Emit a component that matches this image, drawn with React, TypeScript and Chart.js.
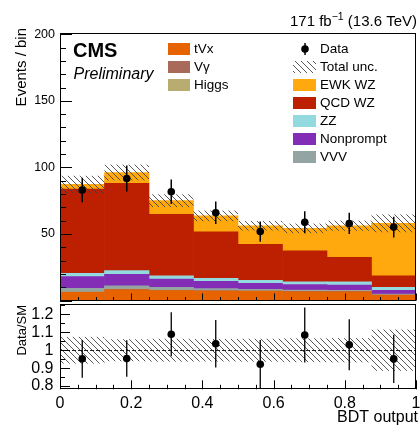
import React, { useEffect, useRef } from "react";
import { Chart, registerables } from "chart.js";

Chart.register(...registerables);

// BDT output binning
const binEdges = [0, 0.125, 0.25, 0.375, 0.5, 0.625, 0.75, 0.875, 1.0];
const binCenters = [0.0625, 0.1875, 0.3125, 0.4375, 0.5625, 0.6875, 0.8125, 0.9375];

// Expected yields per bin (events / bin)
const tVx = [6.1, 8.1, 7.4, 7.1, 6.9, 6.6, 6.6, 3.9];
const vGamma = [0.3, 0.3, 0.3, 0.3, 0.3, 0.3, 0.3, 0.3];
const higgs = [0.2, 0.2, 0.2, 0.2, 0.2, 0.2, 0.2, 0.2];
const vvv = [2.6, 2.5, 2.0, 1.3, 1.0, 0.8, 0.5, 0.5];
const nonprompt = [8.7, 8.6, 6.2, 5.5, 4.5, 4.1, 4.0, 2.7];
const zz = [2.5, 2.7, 2.4, 2.3, 2.3, 2.1, 2.5, 2.3];
const qcdWZ = [63.3, 65.6, 46.2, 34.9, 27.0, 23.3, 18.3, 8.6];
const ewkWZ = [3.5, 8.2, 10.3, 12.0, 14.0, 16.8, 23.8, 39.5];

// Total (stat + syst) uncertainty on the expectation, absolute
const totalUnc = [6.5, 5.9, 4.8, 4.0, 3.6, 3.6, 3.8, 6.7];

// Observed data and its uncertainty
const dataYield = [83.0, 91.7, 81.7, 65.9, 51.8, 58.8, 57.9, 55.2];
const dataErr = [9.2, 9.8, 9.2, 8.4, 7.6, 8.3, 8.0, 7.8];

// Labelled tick positions
const xTicks = [0, 0.2, 0.4, 0.6, 0.8, 1.0];
const mainYTicks = [0, 50, 100, 150, 200];
const ratioYTicks = [0.8, 0.9, 1.0, 1.1, 1.2];

const FONT = '"Liberation Sans", Arial, Helvetica, sans-serif';

// Stack order, bottom to top
const stackSeries = [
  { label: "tVx", values: tVx, color: "#e76300" },
  { label: "Vγ", values: vGamma, color: "#a96b59" },
  { label: "Higgs", values: higgs, color: "#b9ac70" },
  { label: "VVV", values: vvv, color: "#94a4a2" },
  { label: "Nonprompt", values: nonprompt, color: "#832db6" },
  { label: "ZZ", values: zz, color: "#92dadd" },
  { label: "QCD WZ", values: qcdWZ, color: "#bd1f01" },
  { label: "EWK WZ", values: ewkWZ, color: "#ffa90e" },
];

const colorOf = (label: string) => stackSeries.find((s) => s.label === label)!.color;

const totals = binCenters.map((_, i) => stackSeries.reduce((s, d) => s + d.values[i], 0));
const ratio = dataYield.map((v, i) => v / totals[i]);
const ratioErr = dataErr.map((e, i) => e / totals[i]);
const ratioUnc = totalUnc.map((u, i) => u / totals[i]);

function hatchPattern(ctx: CanvasRenderingContext2D) {
  const s = 6;
  const c = document.createElement("canvas");
  c.width = s;
  c.height = s;
  const g = c.getContext("2d")!;
  g.strokeStyle = "rgba(60,60,60,0.85)";
  g.lineWidth = 1;
  g.beginPath();
  g.moveTo(-1, -1);
  g.lineTo(s + 1, s + 1);
  g.moveTo(s - 1, -1);
  g.lineTo(s + 1, 1);
  g.moveTo(-1, s - 1);
  g.lineTo(1, s + 1);
  g.stroke();
  return ctx.createPattern(c, "repeat")!;
}

type TickSpec = {
  xMajor: number;
  xMinor: number;
  xMajorLen: number;
  xMinorLen: number;
  yMajor: number;
  yMinor: number;
  yMajorLen: number;
  yMinorLen: number;
};

const isMultiple = (v: number, step: number) => Math.abs(v / step - Math.round(v / step)) < 1e-6;

// ROOT-style frame with ticks pointing into the pad
function drawFrameAndTicks(chart: any, spec: TickSpec) {
  const ctx: CanvasRenderingContext2D = chart.ctx;
  const { left, right, top, bottom } = chart.chartArea;
  const xs = chart.scales.x;
  const ys = chart.scales.y;
  ctx.save();
  ctx.strokeStyle = "#000";
  ctx.lineWidth = 1;
  ctx.beginPath();
  const nx = Math.round((xs.max - xs.min) / spec.xMinor);
  for (let i = 0; i <= nx; i++) {
    const v = xs.min + i * spec.xMinor;
    const len = isMultiple(v, spec.xMajor) ? spec.xMajorLen : spec.xMinorLen;
    const px = Math.round(xs.getPixelForValue(v)) + 0.5;
    ctx.moveTo(px, bottom);
    ctx.lineTo(px, bottom - len);
  }
  const k0 = Math.ceil(ys.min / spec.yMinor - 1e-6);
  const k1 = Math.floor(ys.max / spec.yMinor + 1e-6);
  for (let k = k0; k <= k1; k++) {
    const v = k * spec.yMinor;
    const len = isMultiple(v, spec.yMajor) ? spec.yMajorLen : spec.yMinorLen;
    const py = Math.round(ys.getPixelForValue(v)) + 0.5;
    ctx.moveTo(left, py);
    ctx.lineTo(left + len, py);
  }
  ctx.stroke();
  ctx.strokeRect(
    Math.round(left) + 0.5,
    Math.round(top) + 0.5,
    Math.round(right - left) - 1,
    Math.round(bottom - top) - 1
  );
  ctx.restore();
}

function rotatedTitle(ctx: CanvasRenderingContext2D, text: string, x: number, yTop: number, size: number) {
  ctx.save();
  ctx.translate(x, yTop);
  ctx.rotate(-Math.PI / 2);
  ctx.font = `${size}px ${FONT}`;
  ctx.fillStyle = "#000";
  ctx.textAlign = "right";
  ctx.textBaseline = "middle";
  ctx.fillText(text, 0, 0);
  ctx.restore();
}

const fixScaleWidth = (w: number) => (s: any) => {
  s.width = w;
  s.paddingTop = 0;
  s.paddingBottom = 0;
  s.paddingLeft = 0;
  s.paddingRight = 0;
};
const fixScaleHeight = (h: number) => (s: any) => {
  s.height = h;
  s.paddingTop = 0;
  s.paddingBottom = 0;
  s.paddingLeft = 0;
  s.paddingRight = 0;
};
const useTicks = (values: number[]) => (s: any) => {
  s.ticks = values.map((value) => ({ value }));
};

const numLabel = (v: any) => String(Math.round(Number(v) * 10) / 10);

const mainPlugin = {
  id: "mainPadDecor",
  beforeDatasetDraw(chart: any, args: any) {
    if (args.meta.type !== "scatter") return;
    const ctx: CanvasRenderingContext2D = chart.ctx;
    const xs = chart.scales.x;
    const ys = chart.scales.y;
    ctx.save();
    ctx.beginPath();
    ctx.rect(chart.chartArea.left, chart.chartArea.top, chart.chartArea.width, chart.chartArea.height);
    ctx.clip();
    ctx.fillStyle = hatchPattern(ctx);
    for (let i = 0; i < binCenters.length; i++) {
      const x0 = xs.getPixelForValue(binEdges[i]);
      const x1 = xs.getPixelForValue(binEdges[i + 1]);
      const y0 = ys.getPixelForValue(totals[i] + totalUnc[i]);
      const y1 = ys.getPixelForValue(totals[i] - totalUnc[i]);
      ctx.fillRect(x0, y0, x1 - x0, y1 - y0);
    }
    ctx.strokeStyle = "#000";
    ctx.lineWidth = 1.5;
    ctx.beginPath();
    for (let i = 0; i < binCenters.length; i++) {
      const px = xs.getPixelForValue(binCenters[i]);
      ctx.moveTo(px, ys.getPixelForValue(dataYield[i] + dataErr[i]));
      ctx.lineTo(px, ys.getPixelForValue(dataYield[i] - dataErr[i]));
    }
    ctx.stroke();
    ctx.restore();
  },
  afterDraw(chart: any) {
    const ctx: CanvasRenderingContext2D = chart.ctx;
    drawFrameAndTicks(chart, {
      xMajor: 0.2,
      xMinor: 0.05,
      xMajorLen: 7,
      xMinorLen: 3.5,
      yMajor: 50,
      yMinor: 10,
      yMajorLen: 12,
      yMinorLen: 6,
    });

    rotatedTitle(ctx, "Events / bin", 21.5, 28, 15);

    ctx.save();
    ctx.fillStyle = "#000";
    ctx.textBaseline = "alphabetic";
    ctx.textAlign = "left";
    ctx.font = `bold 20px ${FONT}`;
    ctx.fillText("CMS", 73, 57);
    ctx.font = `italic 16px ${FONT}`;
    ctx.fillText("Preliminary", 73.5, 79);

    // luminosity label, right aligned
    const big = `15px ${FONT}`;
    const small = `10.5px ${FONT}`;
    const partA = "171 fb";
    const partSup = "\u22121";
    const partB = " (13.6 TeV)";
    ctx.font = big;
    const wA = ctx.measureText(partA).width;
    const wB = ctx.measureText(partB).width;
    ctx.font = small;
    const wS = ctx.measureText(partSup).width;
    let x = 417 - (wA + wS + wB);
    ctx.font = big;
    ctx.fillText(partA, x, 26);
    x += wA;
    ctx.font = small;
    ctx.fillText(partSup, x, 20);
    x += wS;
    ctx.font = big;
    ctx.fillText(partB, x, 26);

    // legend
    ctx.font = `13.5px ${FONT}`;
    ctx.textBaseline = "middle";
    const leftCol = ["tVx", "Vγ", "Higgs"];
    leftCol.forEach((label, r) => {
      const cy = 49 + r * 18;
      ctx.fillStyle = colorOf(label);
      ctx.fillRect(168, cy - 6, 22, 12);
      ctx.fillStyle = "#000";
      ctx.fillText(label, 194, cy);
    });
    const rightCol = ["Data", "Total unc.", "EWK WZ", "QCD WZ", "ZZ", "Nonprompt", "VVV"];
    rightCol.forEach((label, r) => {
      const cy = 49 + r * 18;
      if (label === "Data") {
        ctx.strokeStyle = "#000";
        ctx.lineWidth = 1.5;
        ctx.beginPath();
        ctx.moveTo(305, cy - 6);
        ctx.lineTo(305, cy + 6);
        ctx.stroke();
        ctx.fillStyle = "#000";
        ctx.beginPath();
        ctx.arc(305, cy, 3.8, 0, Math.PI * 2);
        ctx.fill();
      } else if (label === "Total unc.") {
        ctx.fillStyle = hatchPattern(ctx);
        ctx.fillRect(293, cy - 6, 23, 12);
      } else {
        ctx.fillStyle = colorOf(label);
        ctx.fillRect(293, cy - 6, 23, 12);
      }
      ctx.fillStyle = "#000";
      ctx.fillText(label, 320, cy);
    });
    ctx.restore();
  },
};

const ratioPlugin = {
  id: "ratioPadDecor",
  beforeDatasetDraw(chart: any, args: any) {
    if (args.meta.type !== "scatter") return;
    const ctx: CanvasRenderingContext2D = chart.ctx;
    const xs = chart.scales.x;
    const ys = chart.scales.y;
    const { left, right, top, width, height } = chart.chartArea;
    ctx.save();
    ctx.beginPath();
    ctx.rect(left, top, width, height);
    ctx.clip();
    ctx.fillStyle = hatchPattern(ctx);
    for (let i = 0; i < binCenters.length; i++) {
      const x0 = xs.getPixelForValue(binEdges[i]);
      const x1 = xs.getPixelForValue(binEdges[i + 1]);
      const y0 = ys.getPixelForValue(1 + ratioUnc[i]);
      const y1 = ys.getPixelForValue(1 - ratioUnc[i]);
      ctx.fillRect(x0, y0, x1 - x0, y1 - y0);
    }
    const y1px = Math.round(ys.getPixelForValue(1)) + 0.5;
    ctx.strokeStyle = "#222";
    ctx.lineWidth = 1;
    ctx.setLineDash([4, 2]);
    ctx.beginPath();
    ctx.moveTo(left, y1px);
    ctx.lineTo(right, y1px);
    ctx.stroke();
    ctx.setLineDash([]);
    ctx.strokeStyle = "#000";
    ctx.lineWidth = 1.3;
    ctx.beginPath();
    for (let i = 0; i < binCenters.length; i++) {
      const px = xs.getPixelForValue(binCenters[i]);
      ctx.moveTo(px, ys.getPixelForValue(ratio[i] + ratioErr[i]));
      ctx.lineTo(px, ys.getPixelForValue(ratio[i] - ratioErr[i]));
    }
    ctx.stroke();
    ctx.restore();
  },
  afterDraw(chart: any) {
    const ctx: CanvasRenderingContext2D = chart.ctx;
    drawFrameAndTicks(chart, {
      xMajor: 0.2,
      xMinor: 0.05,
      xMajorLen: 9,
      xMinorLen: 4.5,
      yMajor: 0.1,
      yMinor: 0.05,
      yMajorLen: 10,
      yMinorLen: 5,
    });
    rotatedTitle(ctx, "Data/SM", 22, 5, 13);
    ctx.save();
    ctx.fillStyle = "#000";
    ctx.font = `16px ${FONT}`;
    ctx.textAlign = "right";
    ctx.textBaseline = "alphabetic";
    ctx.fillText("BDT output", 418, 122);
    ctx.restore();
  },
};

function mainConfig(): any {
  return {
    type: "bar",
    data: {
      datasets: [
        {
          type: "scatter",
          label: "Data",
          stack: "data",
          data: binCenters.map((x, i) => ({ x, y: dataYield[i] })),
          pointRadius: 3.8,
          pointBackgroundColor: "#000",
          pointBorderWidth: 0,
          order: 0,
        },
        ...stackSeries.map((s) => ({
          type: "bar",
          label: s.label,
          stack: "mc",
          data: binCenters.map((x, i) => ({ x, y: s.values[i] })),
          backgroundColor: s.color,
          borderWidth: 0,
          barPercentage: 1,
          categoryPercentage: 1,
          order: 1,
        })),
      ],
    },
    options: {
      responsive: false,
      animation: false,
      devicePixelRatio: 1,
      events: [],
      layout: { padding: { top: 33, right: 1.5, left: 0, bottom: 0 } },
      plugins: { legend: { display: false }, tooltip: { enabled: false } },
      scales: {
        x: {
          type: "linear",
          min: 0,
          max: 1,
          bounds: "data",
          offset: false,
          stacked: true,
          grid: { display: false, drawTicks: false },
          border: { display: false },
          ticks: { display: false },
          afterBuildTicks: useTicks(xTicks),
          afterFit: fixScaleHeight(4.5),
        },
        y: {
          type: "linear",
          min: 0,
          max: 201,
          bounds: "data",
          stacked: true,
          grid: { display: false, drawTicks: false },
          border: { display: false },
          ticks: {
            autoSkip: false,
            padding: 5,
            color: "#000",
            font: { family: FONT, size: 12.5 },
            callback: (v: any) => (Number(v) === 0 ? "" : String(v)),
          },
          afterBuildTicks: useTicks(mainYTicks),
          afterFit: fixScaleWidth(60),
        },
      },
    },
    plugins: [mainPlugin],
  };
}

function ratioConfig(): any {
  return {
    type: "scatter",
    data: {
      datasets: [
        {
          label: "Data/SM",
          data: binCenters.map((x, i) => ({ x, y: ratio[i] })),
          pointRadius: 3.8,
          pointBackgroundColor: "#000",
          pointBorderWidth: 0,
        },
      ],
    },
    options: {
      responsive: false,
      animation: false,
      devicePixelRatio: 1,
      events: [],
      layout: { padding: { top: 3.5, right: 1.5, left: 0, bottom: 0 } },
      plugins: { legend: { display: false }, tooltip: { enabled: false } },
      scales: {
        x: {
          type: "linear",
          min: 0,
          max: 1,
          bounds: "data",
          grid: { display: false, drawTicks: false },
          border: { display: false },
          ticks: {
            autoSkip: false,
            maxRotation: 0,
            minRotation: 0,
            padding: 5,
            color: "#000",
            font: { family: FONT, size: 16 },
            callback: numLabel,
          },
          afterBuildTicks: useTicks(xTicks),
          afterFit: fixScaleHeight(37.7),
        },
        y: {
          type: "linear",
          min: 0.782,
          max: 1.258,
          bounds: "data",
          grid: { display: false, drawTicks: false },
          border: { display: false },
          ticks: {
            autoSkip: false,
            padding: 6.5,
            color: "#000",
            font: { family: FONT, size: 16 },
            callback: numLabel,
          },
          afterBuildTicks: useTicks(ratioYTicks),
          afterFit: fixScaleWidth(60),
        },
      },
    },
    plugins: [ratioPlugin],
  };
}

export default function App() {
  const mainRef = useRef<HTMLCanvasElement>(null);
  const ratioRef = useRef<HTMLCanvasElement>(null);

  useEffect(() => {
    const main = new Chart(mainRef.current!, mainConfig());
    const rat = new Chart(ratioRef.current!, ratioConfig());
    return () => {
      main.destroy();
      rat.destroy();
    };
  }, []);

  return (
    <div
      style={{
        position: "fixed",
        left: 0,
        top: 0,
        width: 420,
        height: 427,
        background: "#fff",
        overflow: "hidden",
      }}
    >
      <canvas ref={mainRef} width={420} height={305} style={{ position: "absolute", left: 0, top: 0 }} />
      <canvas ref={ratioRef} width={420} height={127} style={{ position: "absolute", left: 0, top: 300 }} />
    </div>
  );
}
